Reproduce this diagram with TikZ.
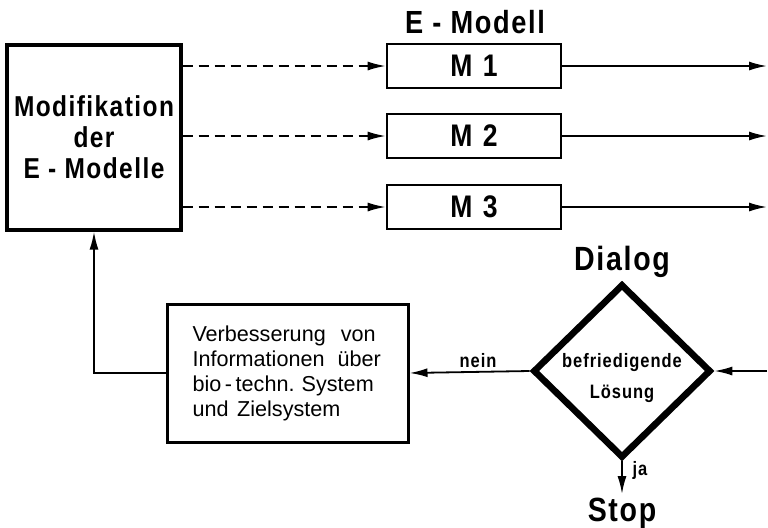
\documentclass[tikz,border=0pt]{standalone}
\usepackage{fontspec}
\setmainfont{Liberation Sans}
\newfontfamily\fettfont[FakeStretch=0.85,LetterSpace=5]{Liberation Sans Bold}
\usetikzlibrary{arrows.meta,shapes.geometric}

\begin{document}
\begin{tikzpicture}[x=0.5pt,y=-0.5pt,
	pfeil/.style={line width=0.9pt,-{Latex[length=9pt,width=4.5pt]}},
	strichpfeil/.style={pfeil,dash pattern=on 5pt off 3pt},
	modbox/.style={draw,line width=1.3pt,minimum width=87pt,minimum height=22pt,inner sep=0pt,font=\fettfont\fontsize{15.6}{17}\selectfont}]
	\useasboundingbox (0,0) rectangle (768,527);

	% Modifikation der E-Modelle
	\node[draw,line width=1.6pt,minimum width=87pt,minimum height=92.5pt,align=center,
		font=\fettfont\fontsize{14.4}{15.5}\selectfont] (modif) at (94,137.5) {Modifikation\\der\\E - Modelle};

	% E-Modell M1, M2, M3
	\node[font=\fettfont\fontsize{16}{18}\selectfont] (emod) at (475,22) {E - Modell};
	\node[modbox] (m1) at (474,66) {M\,\,1};
	\node[modbox] (m2) at (474,136) {M\,\,2};
	\node[modbox] (m3) at (474,207) {M\,\,3};

	% Ausgaenge
	\coordinate (o1) at (767,66);
	\coordinate (o2) at (767,136);
	\coordinate (o3) at (767,207);

	% gestrichelte Pfeile
	\draw[strichpfeil] (m1.west -| modif.east) -- (m1.west);
	\draw[strichpfeil] (m2.west -| modif.east) -- (m2.west);
	\draw[strichpfeil] (m3.west -| modif.east) -- (m3.west);

	% Pfeile nach rechts
	\draw[pfeil] (m1.east) -- (o1);
	\draw[pfeil] (m2.east) -- (o2);
	\draw[pfeil] (m3.east) -- (o3);

	% Dialog
	\node[font=\fettfont\fontsize{16.8}{18}\selectfont] (dialog) at (622,262) {Dialog};
	\node[diamond,draw,line width=3.3pt,line join=miter,minimum width=89pt,minimum height=87pt,inner sep=0pt] (dia) at (622,371) {};
	\node[align=center,font=\fettfont\fontsize{9.7}{15.5}\selectfont] (loesung) at (622,378) {befriedigende\\Lösung};
	\coordinate (ein) at (767,371);
	\draw[pfeil] (ein) -- (dia.east);

	% Stop
	\node[font=\fettfont\fontsize{16.8}{18}\selectfont] (stop) at (622,513) {Stop};
	\node[font=\fettfont\fontsize{9.7}{11}\selectfont] (ja) at (640,470) {ja};
	\coordinate (stopein) at (622,494);
	\draw[pfeil] (dia.south) -- (stopein);

	% Verbesserung
	\node[draw,line width=1.5pt,minimum width=120.5pt,minimum height=69pt,text width=95pt,align=left,
		font=\fontsize{10.8}{12.5}\selectfont] (verb) at (287.5,373)
		{Verbesserung\hspace{0.7em}von\\Informationen\hspace{0.6em}über\\bio\,-\,techn.\ System\\und\hspace{0.4em}Zielsystem};
	\node[font=\fettfont\fontsize{9.7}{11}\selectfont] (nein) at (478,361) {nein};
	\draw[pfeil] (dia.west) -- (verb.east);

	% Rueckfuehrung
	\draw[pfeil] (verb.west) -| (modif.south);
\end{tikzpicture}
\end{document}
